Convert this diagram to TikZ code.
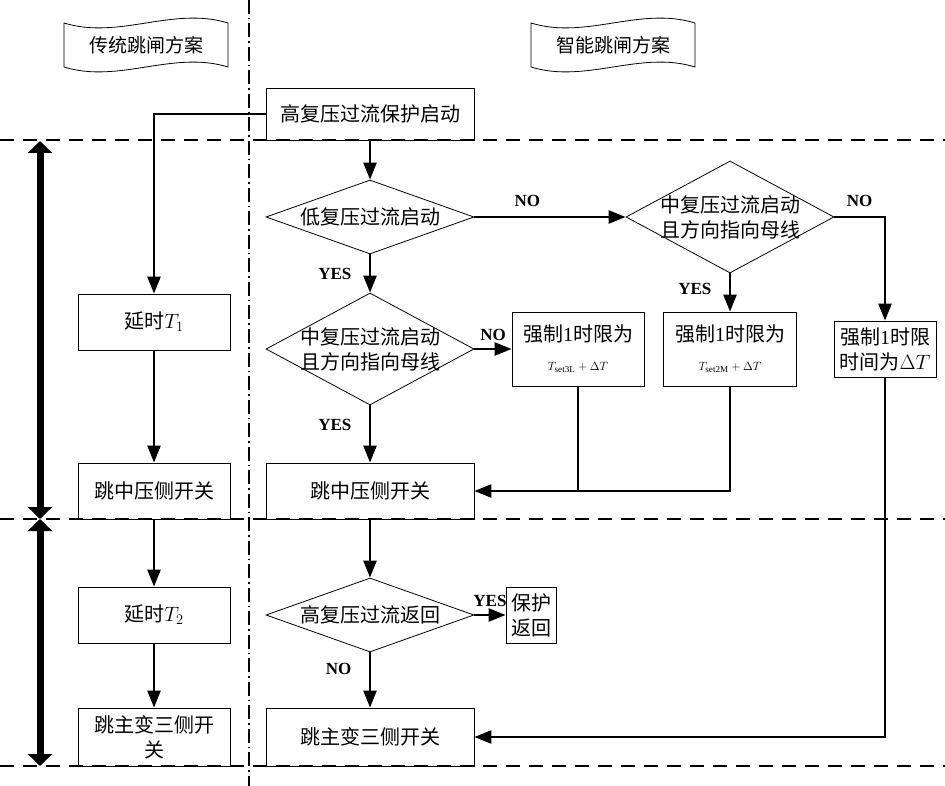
\documentclass[tikz,border=0pt]{standalone}
\usepackage{fontspec}
\setmainfont{Liberation Serif}
\newfontfamily\cjk{Noto Sans CJK SC}
\usepackage{tikz}
\usetikzlibrary{shapes.geometric}
\usetikzlibrary{arrows.meta}
\newcommand*{\largeurBandeau}{164}
\newcommand*{\hauteurBandeau}{44}
\newcommand*{\onde}{17}
\tikzset{
	bandeau/.pic ={
		\draw[line width=0.8pt](-\largeurBandeau/2,-\hauteurBandeau/2)
			.. controls (-27,-\hauteurBandeau/2+\onde) and (27,-\hauteurBandeau/2-\onde) .. (\largeurBandeau/2,-\hauteurBandeau/2)
			--(\largeurBandeau/2,\hauteurBandeau/2)
			.. controls (27,\hauteurBandeau/2-\onde) and (-27,\hauteurBandeau/2+\onde) .. (-\largeurBandeau/2,\hauteurBandeau/2)
			--cycle;
		\node[font=\cjk\fontsize{19}{23}\selectfont]{\tikzpictext};
	},
	boite/.style={draw,line width=0.8pt,align=center,inner sep=0pt,font=\cjk\fontsize{20}{25}\selectfont},
	losange/.style={draw,line width=0.8pt,diamond,inner sep=0pt,minimum width=208pt},
	texte/.style={align=center,font=\cjk\fontsize{20}{25}\selectfont},
	fleche/.style={line width=2.5pt,-{Triangle[length=17pt,width=13pt]}},
	trait/.style={line width=2.5pt},
	grosseFleche/.style={line width=7pt,{Triangle[length=12pt,width=24pt]}-{Triangle[length=12pt,width=24pt]}},
	etiquette/.style={font=\bfseries\fontsize{17}{20}\selectfont},
	separation/.style={line width=2pt,dash pattern=on 14pt off 9pt},
	axe/.style={line width=1.2pt,dash pattern=on 14pt off 4pt on 1.5pt off 4pt}
}

\begin{document}
\begin{tikzpicture}[x=1pt,y=-1pt]
	\useasboundingbox (0,0) rectangle (945,786);
	% separations
	\draw[axe] (249,0)--(249,786);
	\draw[separation] (0,140)--(945,140);
	\draw[separation] (0,519)--(945,519);
	\draw[separation] (0,766)--(945,766);
	\coordinate(E0) at (40,141);
	\coordinate(E1) at (40,519);
	\coordinate(E2) at (40,766);
	\draw[grosseFleche] (E0)--(E1);
	\draw[grosseFleche] (E1)--(E2);

	\pic[pic text=传统跳闸方案] (bandG) at (146,45) {bandeau};
	\pic[pic text=智能跳闸方案] (bandD) at (613,45) {bandeau};

	% schema traditionnel
	\node[boite,minimum width=152pt,minimum height=56pt] (delai1) at (154,322) {延时$T_1$};
	\node[boite,minimum width=152pt,minimum height=56pt] (sautG1) at (154,491) {跳中压侧开关};
	\node[boite,minimum width=152pt,minimum height=56pt] (delai2) at (154,615) {延时$T_2$};
	\node[boite,minimum width=152pt,minimum height=58pt] (sautG2) at (154,737) {跳主变三侧开\\关};

	% schema intelligent
	\node[boite,minimum width=208pt,minimum height=52pt] (haut) at (370,114) {高复压过流保护启动};
	\node[losange,minimum height=74pt,label={[texte]center:低复压过流启动}] (los1) at (370,217) {};
	\node[losange,minimum height=112pt,label={[texte]center:{中复压过流启动\\且方向指向母线}}] (los2) at (370,349) {};
	\node[losange,minimum height=112pt,label={[texte]center:{中复压过流启动\\且方向指向母线}}] (los3) at (730,217) {};
	\node[boite,minimum width=132pt,minimum height=74pt] (force3L) at (578,349)
		{强制{\rmfamily 1}时限为\\[4pt]{\fontsize{13}{15}\selectfont$T_{\mathrm{set3L}}+\Delta T$}};
	\node[boite,minimum width=133pt,minimum height=74pt] (force2M) at (730,349)
		{强制{\rmfamily 1}时限为\\[4pt]{\fontsize{13}{15}\selectfont$T_{\mathrm{set2M}}+\Delta T$}};
	\node[boite,minimum width=102pt,minimum height=56pt] (forceDT) at (885,349) {强制{\rmfamily 1}时限\\时间为$\Delta T$};
	\node[boite,minimum width=208pt,minimum height=56pt] (sautD1) at (370,491) {跳中压侧开关};
	\node[losange,minimum height=74pt,label={[texte]center:高复压过流返回}] (los4) at (370,615) {};
	\node[boite,minimum width=50pt,minimum height=56pt] (retour) at (531,615) {保护\\返回};
	\node[boite,minimum width=208pt,minimum height=58pt] (sautD2) at (370,737) {跳主变三侧开关};

	\draw[fleche] (haut.west) -| (delai1.north);
	\draw[fleche] (delai1)--(sautG1);
	\draw[fleche] (sautG1)--(delai2);
	\draw[fleche] (delai2)--(sautG2);

	\draw[fleche] (haut)--(los1);
	\draw[fleche] (los1)--node[etiquette,left=14pt]{YES}(los2);
	\draw[fleche] (los1)--node[etiquette,above=6pt,pos=0.35]{NO}(los3);
	\draw[fleche] (los2)--node[etiquette,above=4pt]{NO}(force3L);
	\draw[fleche] (los2)--node[etiquette,left=14pt,pos=0.35]{YES}(sautD1);
	\draw[fleche] (los3)--node[etiquette,left=14pt,pos=0.4]{YES}(force2M);
	\draw[fleche] (los3.east) -| node[etiquette,above=6pt,pos=0.25]{NO} (forceDT.north);
	\draw[trait] (force3L.south)--(force3L.south |- sautD1.east);
	\draw[fleche] (force2M.south) |- (sautD1.east);
	\draw[fleche] (forceDT.south) |- (sautD2.east);
	\draw[fleche] (sautD1)--(los4);
	\draw[fleche] (los4)--node[etiquette,above=4pt]{YES}(retour);
	\draw[fleche] (los4)--node[etiquette,left=14pt,pos=0.3]{NO}(sautD2);
\end{tikzpicture}
\end{document}
